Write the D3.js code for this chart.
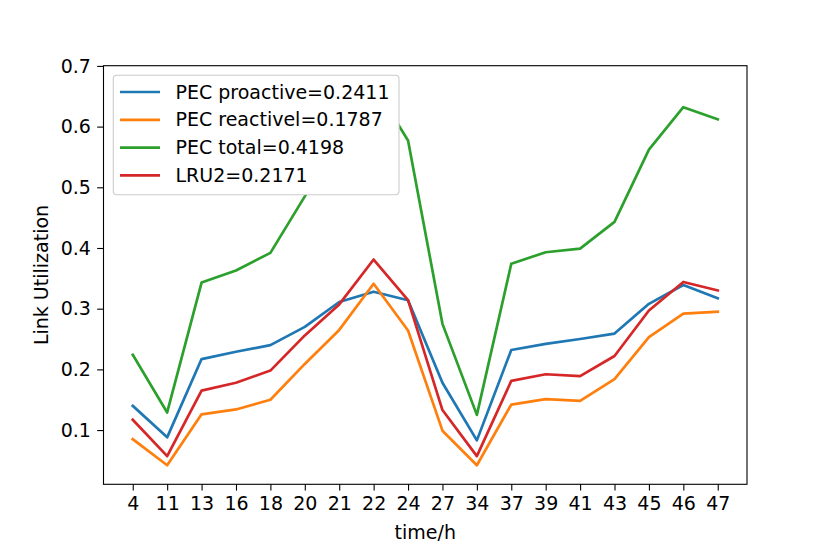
<!DOCTYPE html>
<html>
<head>
<meta charset="utf-8">
<script src="https://cdn.jsdelivr.net/npm/d3@7"></script>
<style>
  body { margin: 0; background: #fff; }
  svg { font-family: "DejaVu Sans", sans-serif; }
</style>
</head>
<body>
<svg width="830" height="554"></svg>
<script>
// hours on the x axis (categorical)
const hours = ["4", "11", "13", "16", "18", "20", "21", "22", "24", "27", "34", "37", "39", "41", "43", "45", "46", "47"];

// series
const proactive = [0.140, 0.088, 0.217, 0.229, 0.240, 0.270, 0.311, 0.328, 0.314, 0.178, 0.083, 0.232, 0.242, 0.250, 0.259, 0.308, 0.339, 0.317];
const reactive  = [0.085, 0.042, 0.126, 0.134, 0.150, 0.209, 0.265, 0.341, 0.264, 0.099, 0.042, 0.142, 0.151, 0.148, 0.184, 0.253, 0.292, 0.295];
const total     = [0.224, 0.129, 0.343, 0.363, 0.392, 0.485, 0.576, 0.669, 0.577, 0.275, 0.125, 0.374, 0.393, 0.399, 0.443, 0.562, 0.632, 0.612];
const lru2      = [0.117, 0.057, 0.165, 0.178, 0.198, 0.256, 0.307, 0.381, 0.314, 0.133, 0.057, 0.181, 0.192, 0.189, 0.222, 0.297, 0.344, 0.330];

const seriesNames = ["PEC proactive=0.2411", "PEC reactivel=0.1787", "PEC total=0.4198", "LRU2=0.2171"];
const seriesColors = ["#1f77b4", "#ff7f0e", "#2ca02c", "#d62728"];
const yTicks = [0.1, 0.2, 0.3, 0.4, 0.5, 0.6, 0.7];

const series = [proactive, reactive, total, lru2];

const svg = d3.select("svg");
const margin = { left: 103.5, right: 83, top: 65.7, bottom: 69.7 };
const W = 830, H = 554;
const fs = 19;

// matplotlib-like 5% margins on the data range
const all = series.flat();
const lo = d3.min(all), hi = d3.max(all);
const pad = (hi - lo) * 0.05;

const x = d3.scalePoint().domain(hours).range([margin.left, W - margin.right]).padding(0.85);
const y = d3.scaleLinear().domain([lo - pad, hi + pad]).range([H - margin.bottom, margin.top]);

const line = d3.line().x((d, i) => x(hours[i])).y(d => y(d));

// lines
series.forEach((s, k) => {
  svg.append("path")
    .datum(s)
    .attr("d", line)
    .attr("fill", "none")
    .attr("stroke", seriesColors[k])
    .attr("stroke-width", 2.7)
    .attr("stroke-linejoin", "round")
    .attr("stroke-linecap", "square");
});

// axes
const xAxis = svg.append("g")
  .attr("transform", `translate(0,${H - margin.bottom})`)
  .call(d3.axisBottom(x).tickSize(6.3).tickPadding(6.3).tickSizeOuter(0));
const yAxis = svg.append("g")
  .attr("transform", `translate(${margin.left},0)`)
  .call(d3.axisLeft(y).tickValues(yTicks).tickFormat(d3.format(".1f")).tickSize(6.3).tickPadding(6.3).tickSizeOuter(0));

[xAxis, yAxis].forEach(g => {
  g.select(".domain").remove();
  g.selectAll("line").attr("stroke", "#000").attr("stroke-width", 1.1);
  g.selectAll("text").attr("font-size", fs).attr("fill", "#000")
    .attr("font-family", "DejaVu Sans, sans-serif");
});

// frame
svg.append("rect")
  .attr("x", margin.left).attr("y", margin.top)
  .attr("width", W - margin.left - margin.right)
  .attr("height", H - margin.top - margin.bottom)
  .attr("fill", "none").attr("stroke", "#000").attr("stroke-width", 1.1);

// axis labels
svg.append("text")
  .attr("x", (margin.left + W - margin.right) / 2).attr("y", 539)
  .attr("text-anchor", "middle").attr("font-size", fs)
  .text("time/h");
svg.append("text")
  .attr("transform", `translate(48,${(margin.top + H - margin.bottom) / 2}) rotate(-90)`)
  .attr("text-anchor", "middle").attr("font-size", fs)
  .text("Link Utilization");

// legend
const lg = svg.append("g");
lg.append("rect")
  .attr("x", 113.3).attr("y", 75.3).attr("width", 285.7).attr("height", 119.4)
  .attr("rx", 3.5)
  .attr("fill", "#fff")
  .attr("stroke", "#cccccc").attr("stroke-width", 1.1);
seriesNames.forEach((name, k) => {
  const cy = 92 + k * 27.8;
  lg.append("line")
    .attr("x1", 120).attr("x2", 160).attr("y1", cy).attr("y2", cy)
    .attr("stroke", seriesColors[k]).attr("stroke-width", 2.7);
  lg.append("text")
    .attr("x", 175.5).attr("y", cy).attr("dy", "0.35em")
    .attr("font-size", fs)
    .text(name);
});
</script>
</body>
</html>
